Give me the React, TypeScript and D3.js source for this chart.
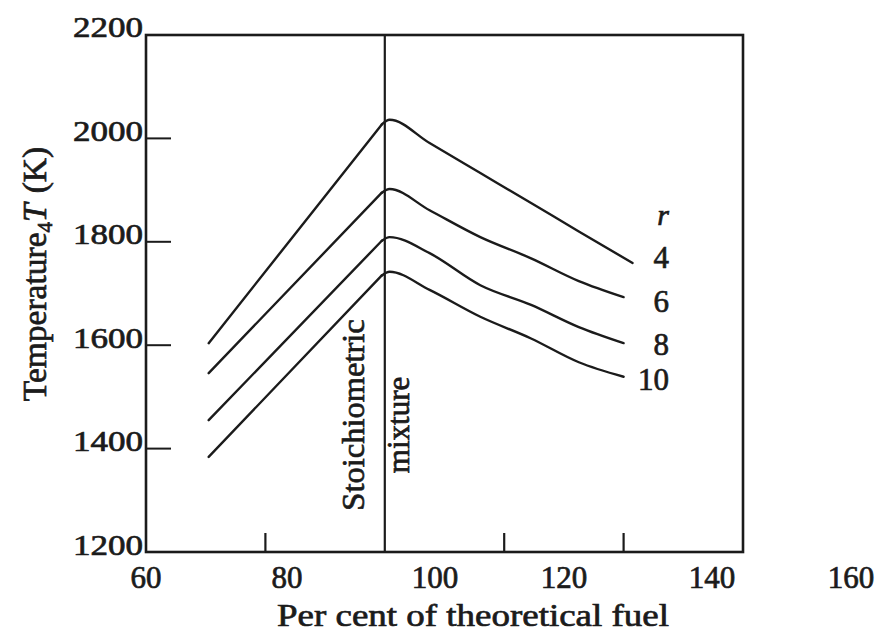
import React from "react";
import * as d3 from "d3";

const W = 879;
const H = 637;

// Axis ticks / labels
const xTickLabels = [60, 80, 100, 120, 140, 160];
const yTickLabels = [1200, 1400, 1600, 1800, 2000, 2200];
const xTickMarks = [80, 120, 140];
const yTickMarks = [1400, 1600, 1800, 2000];
const stoichiometric = 100;

// Series: compression ratio r
const rValues = ["4", "6", "8", "10"];
const fuelR4 = [70.5, 99.5, 100.8, 107.5, 116, 124.5, 132.5, 141.5];
const fuelOther = [70.5, 99.5, 100.8, 107.5, 116, 124.5, 132.5, 140];
const tempR4 = [1604, 2027, 2036, 1991, 1933, 1875, 1820, 1759];
const tempR6 = [1546, 1895, 1902, 1861, 1809, 1768, 1724, 1693];
const tempR8 = [1455, 1802, 1809, 1778, 1716, 1678, 1635, 1604];
const tempR10 = [1384, 1735, 1742, 1707, 1655, 1613, 1567, 1539];

const series = [
  { r: rValues[0], xs: fuelR4, ys: tempR4 },
  { r: rValues[1], xs: fuelOther, ys: tempR6 },
  { r: rValues[2], xs: fuelOther, ys: tempR8 },
  { r: rValues[3], xs: fuelOther, ys: tempR10 },
];

const FONT = "'Liberation Serif', 'DejaVu Serif', 'Times New Roman', serif";
const INK = "#1b1b1b";
const TXT = { fill: INK, stroke: INK, strokeWidth: 0.7 };

export default function App() {
  // plot frame scales
  const x = d3.scaleLinear().domain([60, 160]).range([146, 743]);
  const y = d3.scaleLinear().domain([1200, 2200]).range([552, 35]);
  // tick-label placement (labels in the scanned source are offset from the marks)
  const xl = d3.scaleLinear().domain([60, 80, 100, 120, 140, 160]).range([146, 287, 435, 564, 712, 851]);
  const yl = d3.scaleLinear().domain([1200, 2200]).range([555, 37]);

  const straight = d3
    .line<[number, number]>()
    .x((d) => x(d[0]))
    .y((d) => y(d[1]));
  const smooth = d3
    .line<[number, number]>()
    .x((d) => x(d[0]))
    .y((d) => y(d[1]))
    .curve(d3.curveMonotoneX);

  const labelDy = [5, 15, 12, 13];

  return (
    <svg
      width={W}
      height={H}
      style={{ position: "absolute", left: 0, top: 0, background: "#fff" }}
      fontFamily={FONT}
    >
      <rect x={0} y={0} width={W} height={H} fill="#fff" />
      {/* frame */}
      <rect
        x={x(60)}
        y={y(2200)}
        width={x(160) - x(60)}
        height={y(1200) - y(2200)}
        fill="none"
        stroke={INK}
        strokeWidth={2.6}
      />
      {/* y tick marks (inward) */}
      {yTickMarks.map((t) => (
        <line key={"yt" + t} x1={x(60)} x2={x(60) + 25} y1={y(t)} y2={y(t)} stroke={INK} strokeWidth={2} />
      ))}
      {/* x tick marks (inward) */}
      {xTickMarks.map((t) => (
        <line key={"xt" + t} x1={x(t)} x2={x(t)} y1={y(1200)} y2={y(1200) - 19} stroke={INK} strokeWidth={2.2} />
      ))}
      {/* stoichiometric line */}
      <line
        x1={x(stoichiometric)}
        x2={x(stoichiometric)}
        y1={y(2200)}
        y2={y(1200)}
        stroke={INK}
        strokeWidth={2.2}
      />
      {/* y tick labels */}
      {yTickLabels.map((t) => (
        <text
          key={"yl" + t}
          x={143}
          y={yl(t)}
          textAnchor="end"
          fontSize={29}
          {...TXT}
          textLength={70}
          lengthAdjust="spacingAndGlyphs"
        >
          {t}
        </text>
      ))}
      {/* x tick labels */}
      {xTickLabels.map((t) => (
        <text key={"xl" + t} x={xl(t)} y={588} textAnchor="middle" fontSize={31} {...TXT}>
          {t}
        </text>
      ))}
      {/* curves: straight rich-side branch, smooth lean-side branch */}
      {series.map((s) => {
        const pts = s.xs.map((v, i) => [v, s.ys[i]] as [number, number]);
        return (
          <g key={"c" + s.r} fill="none" stroke={INK} strokeWidth={2.4} strokeLinejoin="round" strokeLinecap="round">
            <path d={straight(pts.slice(0, 2)) || ""} />
            <path d={smooth(pts.slice(1)) || ""} />
          </g>
        );
      })}
      {/* curve labels */}
      <text x={669} y={225} textAnchor="end" fontSize={30} fontStyle="italic" {...TXT}>
        r
      </text>
      {series.map((s, i) => (
        <text
          key={"lab" + s.r}
          x={669}
          y={y(s.ys[s.ys.length - 1]) + labelDy[i]}
          textAnchor="end"
          fontSize={31}
          {...TXT}
        >
          {s.r}
        </text>
      ))}
      {/* stoichiometric annotation */}
      <text
        transform={`translate(${x(stoichiometric) - 21},${415}) rotate(-90)`}
        textAnchor="middle"
        fontSize={32.5}
        {...TXT}
      >
        Stoichiometric
      </text>
      <text
        transform={`translate(${x(stoichiometric) + 24},${425}) rotate(-90)`}
        textAnchor="middle"
        fontSize={31}
        {...TXT}
      >
        mixture
      </text>
      {/* axis titles */}
      <text
        x={473}
        y={626}
        textAnchor="middle"
        fontSize={32}
        textLength={392}
        lengthAdjust="spacingAndGlyphs"
        {...TXT}
      >
        Per cent of theoretical fuel
      </text>
      <text transform="translate(46,274) rotate(-90)" textAnchor="middle" fontSize={33.5} {...TXT}>
        Temperature
        <tspan fontSize={21} dy={6}>4</tspan>
        <tspan fontStyle="italic" dy={-6}>T</tspan>
        <tspan dx={10}>(K)</tspan>
      </text>
    </svg>
  );
}
